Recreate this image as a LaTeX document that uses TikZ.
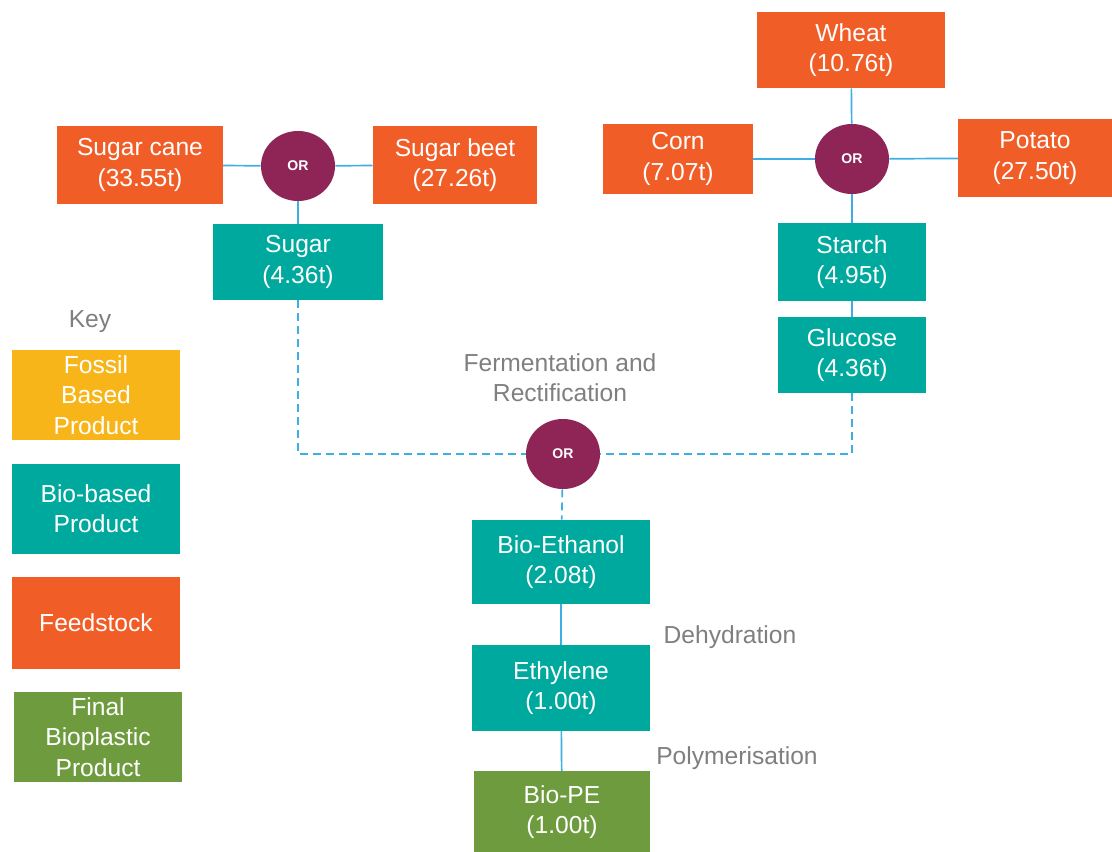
\documentclass[tikz,border=0pt]{standalone}
\usepackage{fontspec}
\setmainfont{Liberation Sans}
\usetikzlibrary{shapes.geometric}
\definecolor{feedcol}{HTML}{F15D27}
\definecolor{biocol}{HTML}{00A99D}
\definecolor{orcol}{HTML}{8E2556}
\definecolor{fossilcol}{HTML}{F8B519}
\definecolor{finalcol}{HTML}{6E9B3E}
\definecolor{linkcol}{HTML}{3DB0E3}
\definecolor{labelcol}{HTML}{7F7F7F}
\tikzset{
	boxstyle/.style={rectangle,inner sep=0pt,align=center,text=white,font=\fontsize{17.5}{21.5}\selectfont},
	feedstyle/.style={boxstyle,fill=feedcol},
	biostyle/.style={boxstyle,fill=biocol},
	fossilstyle/.style={boxstyle,fill=fossilcol},
	finalstyle/.style={boxstyle,fill=finalcol},
	orstyle/.style={ellipse,fill=orcol,text=white,inner sep=0pt,minimum width=1.85cm,minimum height=1.75cm,font=\bfseries\fontsize{10}{12}\selectfont},
	labelstyle/.style={align=center,text=labelcol,font=\fontsize{17.5}{21.5}\selectfont},
	linkstyle/.style={draw=linkcol,line width=1.2pt},
	dashstyle/.style={linkstyle,dash pattern=on 0.2cm off 0.125cm}
}
\begin{document}
\begin{tikzpicture}[x=0.025cm,y=-0.025cm]
	\useasboundingbox (0,0) rectangle (1112,852);
	% sugar route
	\node[feedstyle,minimum width=4.125cm,minimum height=1.95cm] (cane) at (140,165) {Sugar cane\\(33.55t)};
	\node[orstyle] (orsugar) at (298,166) {OR};
	\node[feedstyle,minimum width=4.1cm,minimum height=1.925cm] (beet) at (455,165) {Sugar beet\\(27.26t)};
	\node[biostyle,minimum width=4.25cm,minimum height=1.9cm] (sugar) at (298,262) {Sugar\\(4.36t)};
	% starch route
	\node[feedstyle,minimum width=4.675cm,minimum height=1.9cm] (wheat) at (851,50) {Wheat\\(10.76t)};
	\node[feedstyle,minimum width=3.75cm,minimum height=1.75cm] (corn) at (678,159) {Corn\\(7.07t)};
	\node[orstyle] (orstarch) at (852,159) {OR};
	\node[feedstyle,minimum width=3.825cm,minimum height=1.925cm] (potato) at (1035,158) {Potato\\(27.50t)};
	\node[biostyle,minimum width=3.7cm,minimum height=1.925cm] (starch) at (852,262) {Starch\\(4.95t)};
	\node[biostyle,minimum width=3.7cm,minimum height=1.9cm] (glucose) at (852,355) {Glucose\\(4.36t)};
	% main chain
	\node[labelstyle] (ferment) at (560,378) {Fermentation and\\Rectification};
	\node[orstyle] (orferm) at (563,454) {OR};
	\node[biostyle,minimum width=4.425cm,minimum height=2.1cm] (ethanol) at (561,562) {Bio-Ethanol\\(2.08t)};
	\node[labelstyle] (dehyd) at (730,637) {Dehydration};
	\node[biostyle,minimum width=4.425cm,minimum height=2.125cm] (ethylene) at (561,688) {Ethylene\\(1.00t)};
	\node[labelstyle] (polym) at (737,758) {Polymerisation};
	\node[finalstyle,minimum width=4.375cm,minimum height=2.025cm] (biope) at (562,812) {Bio-PE\\(1.00t)};
	% key
	\node[labelstyle] (key) at (90,322) {Key};
	\node[fossilstyle,minimum width=4.2cm,minimum height=2.25cm] (keyfossil) at (96,395) {Fossil\\Based\\Product};
	\node[biostyle,minimum width=4.2cm,minimum height=2.25cm] (keybio) at (96,509) {Bio-based\\Product};
	\node[feedstyle,minimum width=4.2cm,minimum height=2.3cm] (keyfeed) at (96,623) {Feedstock};
	\node[finalstyle,minimum width=4.2cm,minimum height=2.25cm] (keyfinal) at (98,737) {Final\\Bioplastic\\Product};
	% connectors
	\draw[linkstyle] (cane)--(orsugar);
	\draw[linkstyle] (orsugar)--(beet);
	\draw[linkstyle] (orsugar)--(sugar);
	\draw[linkstyle] (wheat)--(orstarch);
	\draw[linkstyle] (corn)--(orstarch);
	\draw[linkstyle] (orstarch)--(potato);
	\draw[linkstyle] (orstarch)--(starch);
	\draw[linkstyle] (starch)--(glucose);
	\draw[dashstyle] (sugar.south)|-(orferm.west);
	\draw[dashstyle] (glucose.south)|-(orferm.east);
	\draw[dashstyle] (orferm)--(ethanol);
	\draw[linkstyle] (ethanol)--(ethylene);
	\draw[linkstyle] (ethylene)--(biope);
\end{tikzpicture}
\end{document}
